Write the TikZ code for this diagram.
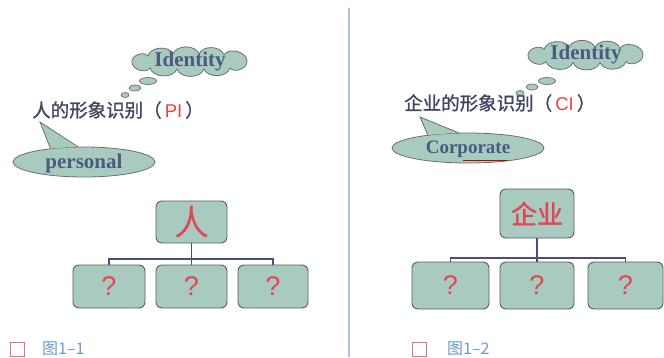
\documentclass[tikz,border=0pt]{standalone}
\usepackage{fontspec}
\setmainfont{Liberation Serif}
\newfontfamily\cjk{Noto Sans CJK SC}
\newfontfamily\cjkb[FakeBold=1.2]{Noto Sans CJK SC}
\newfontfamily\lsans{Liberation Sans}
\usetikzlibrary{shapes.geometric}
\definecolor{boxfill}{HTML}{A9CBBF}
\definecolor{boxline}{HTML}{5C5C5C}
\definecolor{cloudline}{HTML}{6E6E6E}
\definecolor{qred}{HTML}{E04658}
\definecolor{pired}{HTML}{E8413C}
\definecolor{titlec}{HTML}{3F4660}
\definecolor{idc}{HTML}{4A5A80}
\definecolor{linkc}{HTML}{4B4F78}
\definecolor{divc}{HTML}{A8C0E8}
\definecolor{capred}{HTML}{E07080}
\definecolor{capblue}{HTML}{6A9AD0}
\tikzset{
  box/.style={draw=boxline, fill=boxfill, rounded corners=6pt, line width=0.9pt, inner sep=0},
  qmark/.style={box, text=qred, font=\lsans\fontsize{27}{27}\selectfont},
  link/.style={draw=linkc, line width=1.2pt},
  cloudsty/.style={draw=cloudline, fill=boxfill, line width=0.8pt},
  bubble/.style={ellipse, draw=cloudline, fill=boxfill, line width=0.7pt, inner sep=0},
  callout/.style={ellipse, draw=cloudline, fill=boxfill, line width=0.8pt, inner sep=0},
  idtext/.style={text=idc, font=\bfseries\fontsize{21}{21}\selectfont},
  title/.style={anchor=west, text=titlec, font=\cjkb\fontsize{18.5}{19}\selectfont, inner sep=0},
  capsq/.style={draw=capred, line width=0.8pt, minimum size=14pt, inner sep=0},
  captext/.style={anchor=west, text=capblue, font=\cjk\fontsize{16}{16}\selectfont, inner sep=0}
}
\newcommand\mycloudpath{%
  \draw[cloudsty] (-58,1) to[bend left=75] (-42,-5) to[bend left=70] (-17,-7)
    to[bend left=70] (9,-7) to[bend left=70] (34,-6) to[bend left=75] (57,0)
    to[bend left=75] (40,7) to[bend left=70] (14,8) to[bend left=70] (-13,8)
    to[bend left=70] (-40,7) to[bend left=75] cycle;}
\begin{document}
\begin{tikzpicture}[x=1pt,y=-1pt]
\useasboundingbox (0,0) rectangle (664,357);
% divider
\coordinate (dtop) at (349,8);
\coordinate (dbot) at (349,357);
\draw[divc, line width=1.2pt] (dtop) -- (dbot);

% ===== left panel =====
\begin{scope}[shift={(190,61)}]\mycloudpath\end{scope}
\coordinate (cl1) at (190,61);
\node[idtext] (id1) at (cl1) {Identity};
\node[bubble, minimum width=17pt, minimum height=7pt] (b11) at (148,81) {};
\node[bubble, minimum width=12pt, minimum height=6pt] (b12) at (135,88) {};
\node[bubble, minimum width=8pt, minimum height=5pt] (b13) at (125,95) {};
\node[title] (t1) at (32,110) {人的形象识别（\,\textcolor{pired}{\lsans PI}\,）};
\node[callout, minimum width=142pt, minimum height=30pt] (pe) at (84,162) {};
\coordinate (pt) at (40,122);
\fill[boxfill] (pt) -- (pe.158) -- (pe.112) -- cycle;
\draw[cloudline, line width=0.8pt] (pe.158) -- (pt) -- (pe.112);
\node[idtext] (pet) at (84,163) {personal};

\node[box, minimum width=71pt, minimum height=42pt, text=qred, font=\cjk\fontsize{35}{35}\selectfont] (r1) at (191.5,222) {人};
\node[qmark, minimum width=72pt, minimum height=43pt] (c1) at (109,286.5) {?};
\node[qmark, minimum width=71pt, minimum height=43pt] (c2) at (191.5,286.5) {?};
\node[qmark, minimum width=70pt, minimum height=43pt] (c3) at (273,286.5) {?};
\coordinate (j1) at (191.5,259);
\draw[link] (r1.south) -- (r1.south |- j1);
\draw[link] (c1.north) -- (c1.north |- j1) -- (c3.north |- j1) -- (c3.north);
\draw[link] (c2.north) -- (c2.north |- j1);

\node[capsq] (sq1) at (17,349) {};
\node[captext] (cap1) at (42,349) {图1–1};

% ===== right panel =====
\begin{scope}[shift={(586,54.5)}]\mycloudpath\end{scope}
\coordinate (cl2) at (586,54.5);
\node[idtext] (id2) at (cl2) {Identity};
\node[bubble, minimum width=17pt, minimum height=7pt] (b21) at (547,81) {};
\node[bubble, minimum width=12pt, minimum height=6pt] (b22) at (532,87) {};
\node[bubble, minimum width=8pt, minimum height=5pt] (b23) at (520,93) {};
\node[title] (t2) at (404,103) {企业的形象识别（\,\textcolor{pired}{\lsans CI}\,）};
\node[callout, minimum width=152pt, minimum height=30pt] (ce) at (468,148) {};
\coordinate (ct) at (420,117);
\fill[boxfill] (ct) -- (ce.162) -- (ce.122) -- cycle;
\draw[cloudline, line width=0.8pt] (ce.162) -- (ct) -- (ce.122);
\node[idtext, font=\bfseries\fontsize{19}{19}\selectfont] (cet) at (468,149) {Corporate};
\draw[red!80!black, line width=0.6pt] (463,160) -- (508,160);

\node[box, minimum width=74pt, minimum height=49pt, text=qred, font=\cjkb\fontsize{26}{26}\selectfont] (r2) at (537,213.5) {企业};
\node[qmark, minimum width=77pt, minimum height=47pt] (d1) at (450.5,285.5) {?};
\node[qmark, minimum width=74pt, minimum height=47pt] (d2) at (537,285.5) {?};
\node[qmark, minimum width=75pt, minimum height=47pt] (d3) at (625.5,285.5) {?};
\coordinate (j2) at (537,258);
\draw[link] (r2.south) -- (r2.south |- j2);
\draw[link] (d1.north) -- (d1.north |- j2) -- (d3.north |- j2) -- (d3.north);
\draw[link] (d2.north) -- (d2.north |- j2);

\node[capsq] (sq2) at (419.5,349) {};
\node[captext] (cap2) at (447,349) {图1–2};
\end{tikzpicture}
\end{document}
